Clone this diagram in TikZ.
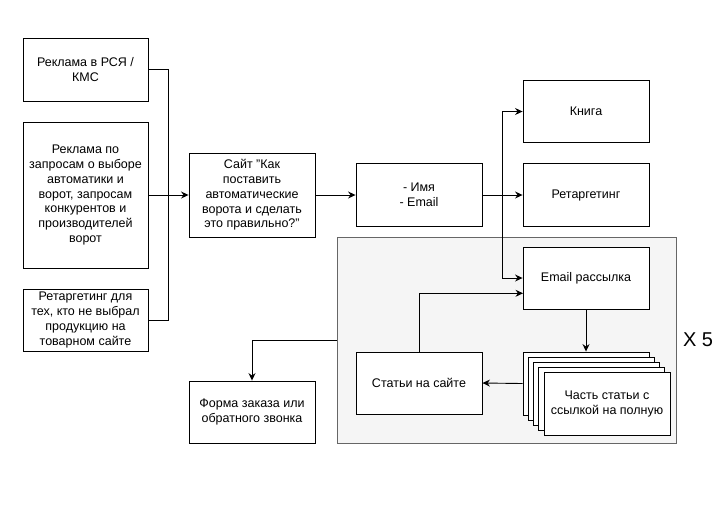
\documentclass[tikz,border=0pt]{standalone}
\usepackage{fontspec}
\setmainfont{Liberation Sans}
\usetikzlibrary{arrows.meta,calc}
\definecolor{contfill}{HTML}{F5F5F5}
\definecolor{contdraw}{HTML}{666666}
\tikzset{
  box/.style={draw=black, fill=white, line width=0.9pt, align=center, inner sep=2pt,
    font=\fontsize{12.5}{14.7}\selectfont, minimum width=126pt, minimum height=63pt},
  arr/.style={line width=0.9pt, -{Stealth[length=7.5pt,width=7pt,inset=2.5pt]}},
  ln/.style={line width=0.9pt},
}
\begin{document}
\begin{tikzpicture}[x=1pt,y=-1pt]
\useasboundingbox (0,0) rectangle (727,512);
% container
\node[draw=contdraw, fill=contfill, line width=0.9pt, minimum width=339pt, minimum height=206pt, inner sep=0pt] (cont) at (507,340) {};
\node[font=\fontsize{20}{24}\selectfont] (x5) at (698,340) {X 5};
% left column
\node[box, minimum width=125pt] (b1) at (85.5,69.5) {Реклама в РСЯ /\\КМС};
\node[box, minimum width=125pt, minimum height=146pt] (b2) at (85.5,195) {Реклама по\\запросам о выборе\\автоматики и\\ворот, запросам\\конкурентов и\\производителей\\ворот};
\node[box, minimum width=125pt, minimum height=62pt] (b3) at (85.5,320) {Ретаргетинг для\\тех, кто не выбрал\\продукцию на\\товарном сайте};
% site
\node[box, minimum height=84pt] (site) at (252,195) {Сайт "Как\\поставить\\автоматические\\ворота и сделать\\это правильно?"};
\node[box] (name) at (419,195) {- Имя\\- Email};
\node[box, minimum height=62pt] (kniga) at (586,111.5) {Книга};
\node[box] (retarg) at (586,195) {Ретаргетинг};
\node[box, minimum height=62pt] (email) at (586,278) {Email рассылка};
\node[box, minimum height=62pt] (stat) at (419,383) {Статьи на сайте};
\node[box, minimum height=62pt] (form) at (252,412) {Форма заказа или\\обратного звонка};
% stack
\node[box] (s1) at (586,383.5) {};
\node[box] (s2) at (591.25,388.7) {};
\node[box] (s3) at (596.5,393.9) {};
\node[box] (s4) at (601.75,399.1) {};
\node[box] (s5) at (607,404.3) {Часть статьи с\\ссылкой на полную};
% connectors
\coordinate (j) at (168.3,195);
\draw[ln] (b1.east) -| (j);
\draw[ln] (b3.east) -| (j);
\draw[arr] (b2.east) -- (site.west);
\draw[arr] (site.east) -- (name.west);
\draw[arr] (name.east) -- (retarg.west);
\coordinate (k) at (502.7,195);
\draw[arr] (k) |- (kniga.west);
\draw[arr] (k) |- (email.west);
\coordinate (e2) at (523,293.3);
\draw[arr] (stat.north) |- (e2);
\draw[arr] (email.south) -- (s1.north);
\draw[arr] (s1.west) -- (stat.east);
\draw[arr] (cont.west) -| (form.north);
\end{tikzpicture}
\end{document}
